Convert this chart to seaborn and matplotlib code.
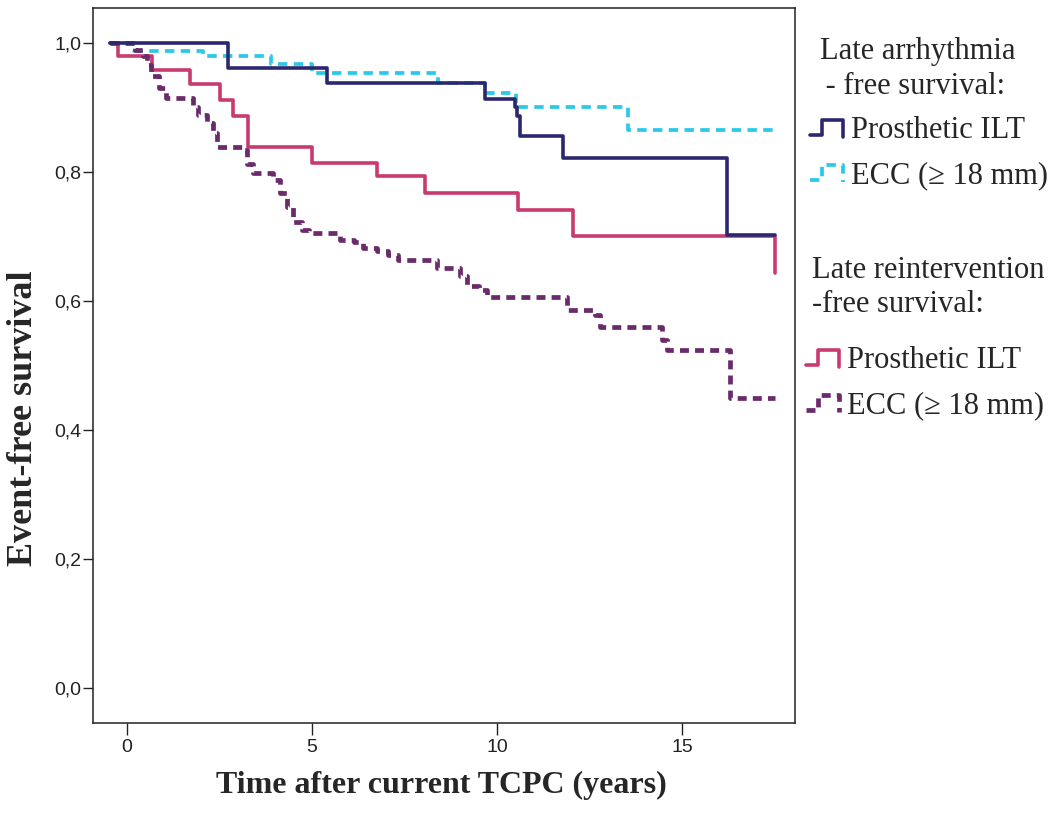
import numpy as np
import pandas as pd
import matplotlib
matplotlib.use("Agg")
import matplotlib.pyplot as plt
import seaborn as sns
from matplotlib.lines import Line2D
from matplotlib.legend_handler import HandlerLine2D

# ---------------- data ----------------
arr_ilt_t = [-0.45, 2.73, 5.40, 9.68, 10.49, 10.55, 10.62, 11.77, 16.20, 17.50]
arr_ilt_s = [1.000, 0.961, 0.938, 0.913, 0.900, 0.886, 0.856, 0.821, 0.702, 0.702]

arr_ecc_t = [-0.45, 0.20, 2.05, 3.90, 5.00, 8.40, 9.68, 10.50, 13.55, 17.50]
arr_ecc_s = [1.000, 0.988, 0.979, 0.967, 0.954, 0.938, 0.922, 0.900, 0.865, 0.865]

reint_ilt_t = [-0.45, -0.24, 0.67, 1.70, 2.51, 2.87, 3.28, 4.99, 6.75, 8.05, 10.57, 12.05, 17.50]
reint_ilt_s = [1.000, 0.980, 0.958, 0.936, 0.912, 0.886, 0.839, 0.814, 0.793, 0.768, 0.741, 0.701, 0.643]

reint_ecc_t = [-0.45, 0.22, 0.43, 0.55, 0.66, 0.85, 1.05, 1.78, 1.93, 2.15, 2.33, 2.42, 3.10,
               3.24, 3.41, 3.95, 4.14, 4.32, 4.49, 4.72, 4.92, 5.76, 6.12, 6.38, 6.75, 7.06,
               7.33, 8.37, 9.00, 9.18, 9.50, 9.72, 11.88, 12.65, 12.78, 14.45, 14.59, 16.30, 17.50]
reint_ecc_s = [1.000, 0.989, 0.979, 0.965, 0.948, 0.930, 0.914, 0.901, 0.888, 0.876, 0.860, 0.839, 0.834,
               0.813, 0.798, 0.788, 0.767, 0.746, 0.723, 0.710, 0.705, 0.695, 0.692, 0.682, 0.678, 0.671,
               0.664, 0.651, 0.638, 0.623, 0.617, 0.606, 0.586, 0.578, 0.560, 0.540, 0.524, 0.449, 0.449]

x_ticks = [0, 5, 10, 15]
x_tick_labels = ["0", "5", "10", "15"]
y_ticks = [0.0, 0.2, 0.4, 0.6, 0.8, 1.0]
y_tick_labels = ["0,0", "0,2", "0,4", "0,6", "0,8", "1,0"]

header_arr = ["Late arrhythmia", " - free survival:"]
header_reint = ["Late reintervention", "-free survival:"]
entry_labels = ["Prosthetic ILT", "ECC (\u2265 18 mm)"]

x_label = "Time after current TCPC (years)"
y_label = "Event-free survival"

# ---------------- style ----------------
NAVY = "#2b2870"
CYAN = "#2cc8ea"
PINK = "#c93a70"
PURPLE = "#6a2b6a"

sns.set_style("white")
plt.rcParams["font.family"] = ["Liberation Serif", "DejaVu Serif"]

W, H = 1063, 813
fig = plt.figure(figsize=(W / 100, H / 100), dpi=100)
ax = fig.add_axes([93 / W, 1 - 723 / H, (795 - 93) / W, (723 - 8) / H])


def draw(t, s, color, lw, ls, z):
    df = pd.DataFrame({"t": t, "s": s})
    sns.lineplot(data=df, x="t", y="s", ax=ax, color=color, linewidth=lw,
                 linestyle=ls, drawstyle="steps-post", estimator=None, zorder=z)
    return ax.lines[-1]


l_cyan = draw(arr_ecc_t, arr_ecc_s, CYAN, 2.7, (0, (2.5, 1.7)), 2)
l_pink = draw(reint_ilt_t, reint_ilt_s, PINK, 2.6, "-", 3)
l_purple = draw(reint_ecc_t, reint_ecc_s, PURPLE, 3.4, (0, (1.9, 1.3)), 4)
l_navy = draw(arr_ilt_t, arr_ilt_s, NAVY, 2.6, "-", 5)

ax.set_xlim(-0.92, 18.05)
ax.set_ylim(-0.054, 1.054)
ax.set_xticks(x_ticks)
ax.set_xticklabels(x_tick_labels)
ax.set_yticks(y_ticks)
ax.set_yticklabels(y_tick_labels)

for sp in ax.spines.values():
    sp.set_visible(True)
    sp.set_color("#222222")
    sp.set_linewidth(1.1)

ax.tick_params(axis="y", direction="out", length=7, width=1.0, pad=1.5,
               colors="#222222", labelsize=14, left=True)
ax.tick_params(axis="x", direction="out", length=8.5, width=1.0, pad=3,
               colors="#222222", labelsize=14, bottom=True)
for lab in ax.get_xticklabels() + ax.get_yticklabels():
    lab.set_family(["Liberation Sans", "DejaVu Sans"])

ax.set_xlabel(x_label, fontsize=23, fontweight="bold", va="center")
ax.xaxis.set_label_coords(0.496, -0.087)
ax.set_ylabel(y_label, fontsize=26, fontweight="bold", va="center")
ax.yaxis.set_label_coords(-0.0997, 0.427)
ax.grid(False)


# ---------------- legend ----------------
class StepHandler(HandlerLine2D):
    def create_artists(self, legend, orig_handle, xdescent, ydescent, width,
                       height, fontsize, trans):
        xs = np.array([0.0, 0.35, 0.35, 0.95, 0.95]) * width - xdescent
        ys = np.array([0.12, 0.12, 0.85, 0.85, 0.05]) * height - ydescent
        leg = Line2D(xs, ys)
        self.update_prop(leg, orig_handle, legend)
        leg.set_drawstyle("default")
        leg.set_transform(trans)
        return [leg]


LFS = 22
leg_kw = dict(frameon=False, fontsize=LFS, loc="upper left", borderpad=0,
              borderaxespad=0, handlelength=1.15, handletextpad=0.18,
              labelspacing=0.52, handler_map={Line2D: StepHandler()},
              bbox_transform=fig.transFigure)

leg1 = ax.legend([l_navy, l_cyan], entry_labels,
                 bbox_to_anchor=(810 / W, 1 - 116 / H), **leg_kw)
ax.add_artist(leg1)
leg2 = ax.legend([l_pink, l_purple], entry_labels,
                 bbox_to_anchor=(806 / W, 1 - 346 / H), **leg_kw)

fig.text(820 / W, 1 - 52 / H, header_arr[0], fontsize=LFS, ha="left", va="center")
fig.text(818 / W, 1 - 87 / H, header_arr[1], fontsize=LFS, ha="left", va="center")
fig.text(812 / W, 1 - 270 / H, header_reint[0], fontsize=LFS, ha="left", va="center")
fig.text(812 / W, 1 - 304 / H, header_reint[1], fontsize=LFS, ha="left", va="center")

fig.savefig("out.png", dpi=100, facecolor="white")
